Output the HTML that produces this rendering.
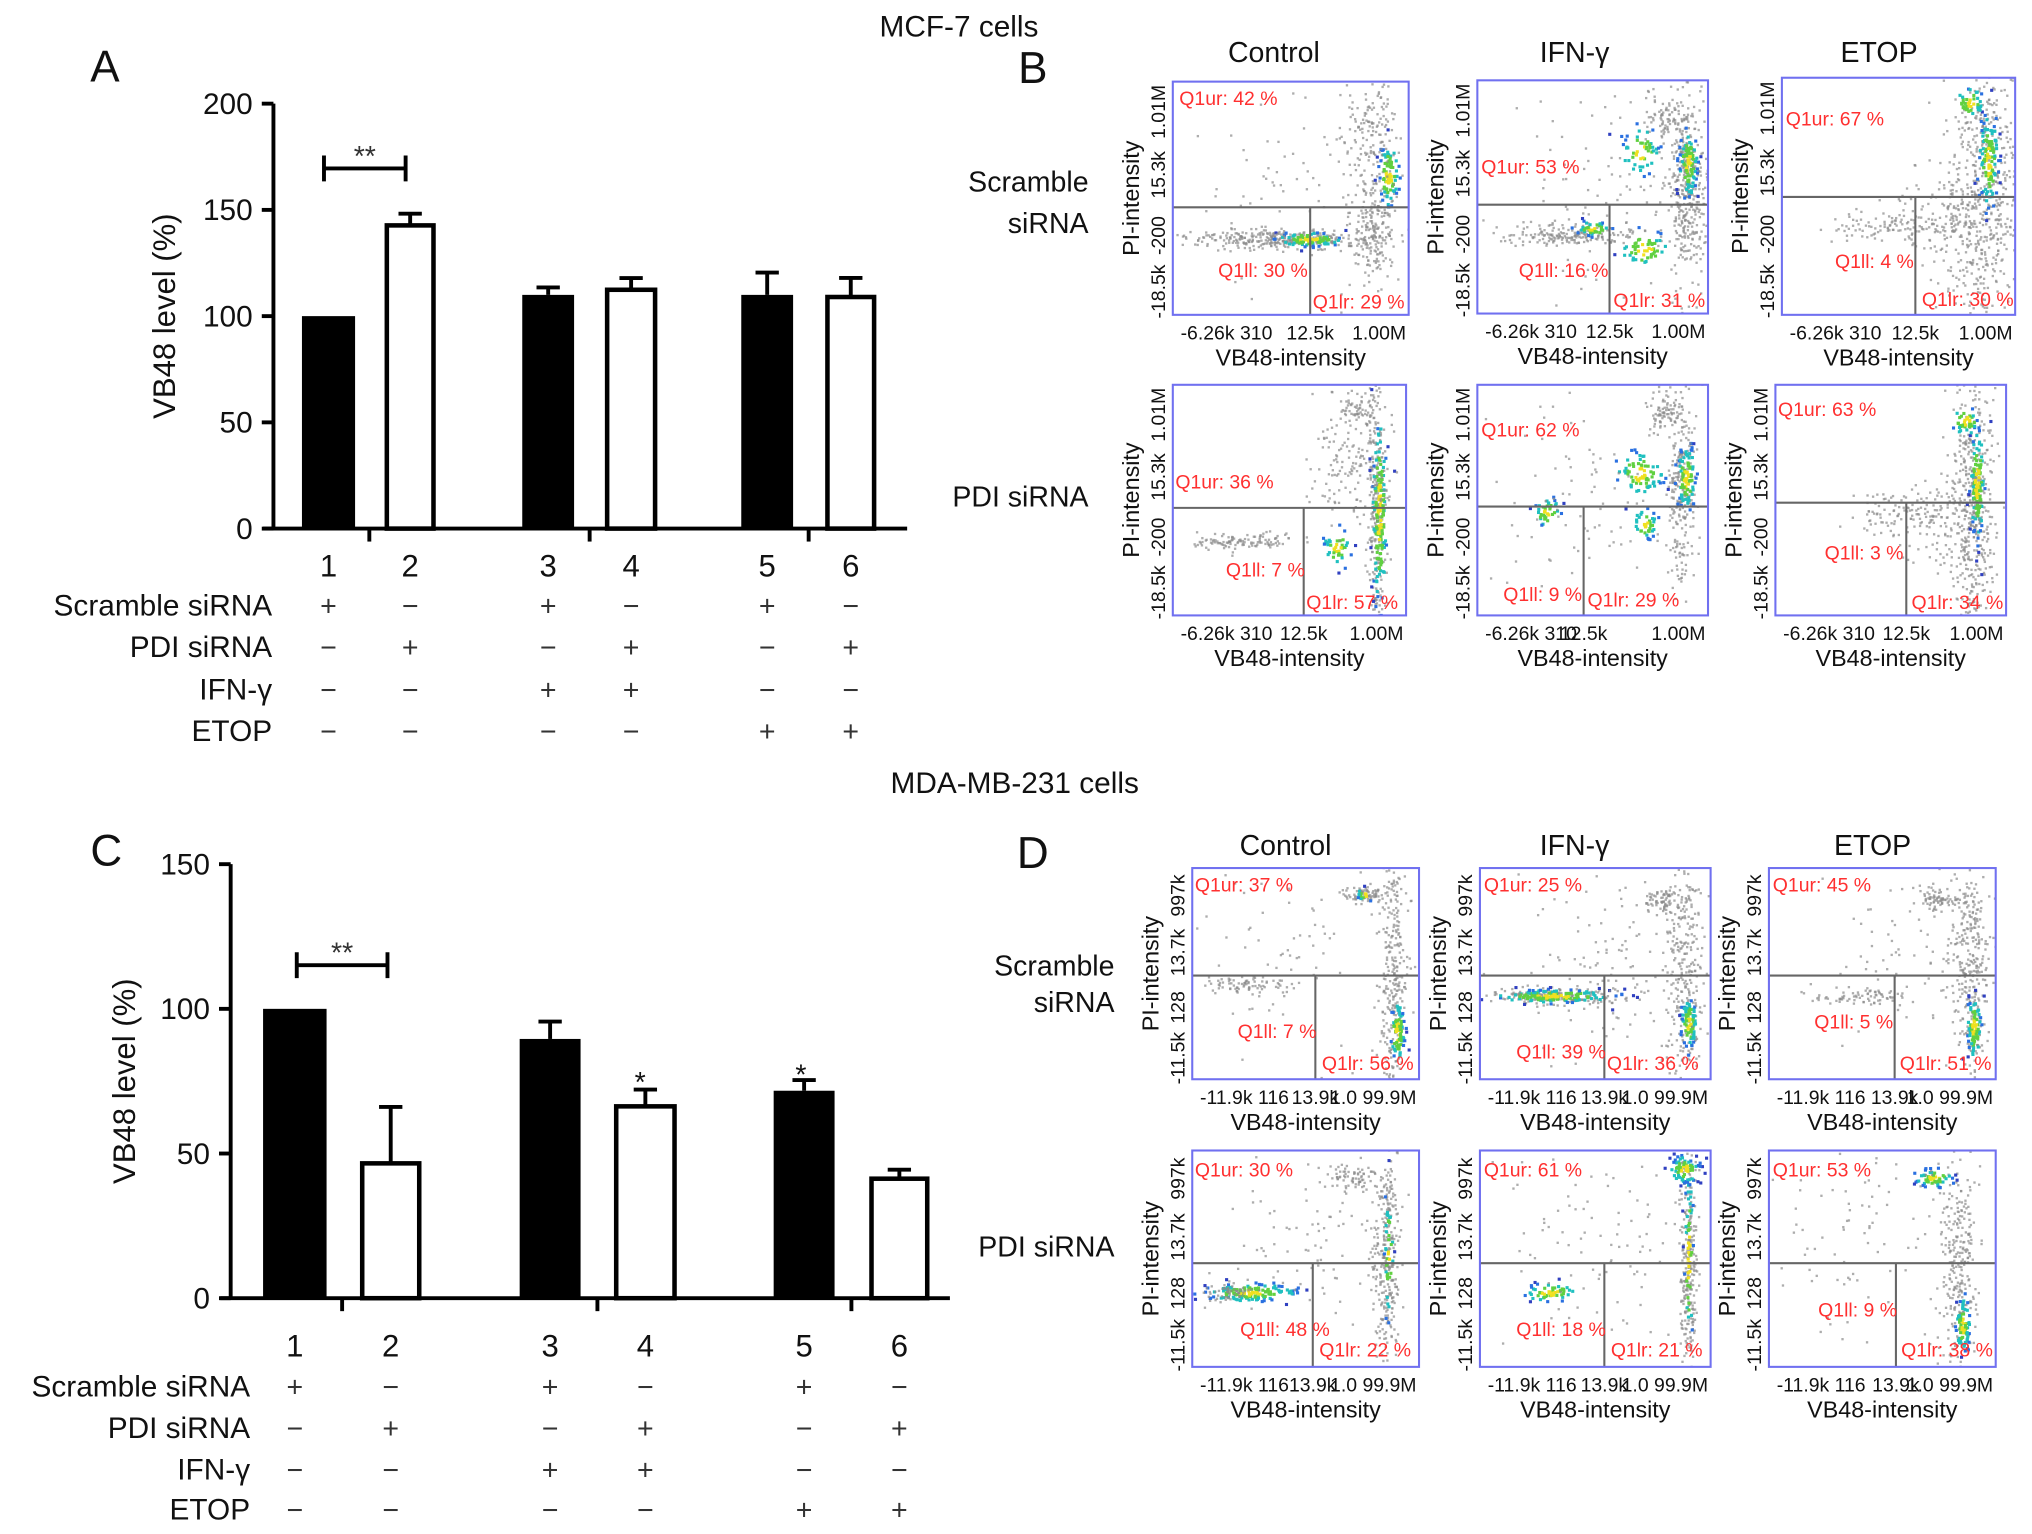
<!DOCTYPE html>
<html><head><meta charset="utf-8">
<style>
html,body{margin:0;padding:0;background:#fff;}
svg{display:block;}
text{font-family:"Liberation Sans",Arial,sans-serif;}
</style></head>
<body>
<svg id="fig" width="2032" height="1534" viewBox="0 0 1568 1184" preserveAspectRatio="none" xmlns="http://www.w3.org/2000/svg">
<rect width="1568" height="1184" fill="#fff"/>
<g id="root"></g>
</svg>
<script>
// ---------- Bar chart data ----------
const barLabels = ["1","2","3","4","5","6"];
const mcfValues = [100, 142.7, 110, 112.4, 110, 109];
const mcfErrors = [0, 5.5, 3.5, 5.5, 10.5, 9];
const mdaValues = [100, 46.6, 89.6, 66.3, 71.7, 41.3];
const mdaErrors = [0, 19.5, 6, 5.8, 3.7, 3.1];
const mcfTicks = [0, 50, 100, 150, 200];
const mdaTicks = [0, 50, 100, 150];
const barFill = ["black","white","black","white","black","white"];
const condNames = ["Scramble siRNA","PDI siRNA","IFN-γ","ETOP"];
const condScramble = ["+","−","+","−","+","−"];
const condPDI = ["−","+","−","+","−","+"];
const condIFN = ["−","−","+","+","−","−"];
const condETOP = ["−","−","−","−","+","+"];

// ---------- Flow plot cluster data (fractions of box: cx, cy, sx, sy, count, hot) ----------
const clustersB1 = [[.45,.67,.2,.02,160,0],[.57,.67,.07,.015,70,1],[.85,.6,.05,.12,120,0],[.91,.4,.02,.07,70,1],[.82,.2,.06,.1,70,0],[.5,.45,.25,.25,40,0]];
const clustersB2 = [[.4,.66,.15,.02,100,0],[.5,.63,.04,.015,30,1],[.9,.45,.04,.2,200,0],[.91,.35,.02,.07,70,1],[.7,.3,.04,.05,40,1],[.72,.72,.05,.04,40,1],[.82,.15,.05,.05,40,0],[.6,.5,.25,.25,50,0]];
const clustersB3 = [[.85,.5,.08,.3,300,0],[.88,.35,.02,.1,90,1],[.8,.1,.03,.03,30,1],[.45,.62,.12,.03,50,0],[.7,.6,.1,.1,60,0]];
const clustersB4 = [[.3,.67,.12,.02,60,0],[.87,.6,.02,.25,150,0],[.88,.55,.015,.2,120,1],[.7,.7,.03,.04,30,1],[.75,.3,.08,.15,80,0],[.8,.1,.04,.03,30,0]];
const clustersB5 = [[.3,.55,.03,.03,30,1],[.88,.45,.03,.2,120,0],[.9,.4,.02,.07,70,1],[.7,.38,.05,.05,60,1],[.72,.6,.03,.03,30,1],[.8,.1,.04,.04,40,0],[.5,.5,.25,.25,50,0]];
const clustersB6 = [[.85,.55,.05,.3,250,0],[.87,.42,.015,.12,90,1],[.82,.15,.03,.03,30,1],[.5,.55,.1,.04,40,0],[.7,.6,.1,.1,50,0]];
const clustersD1 = [[.25,.55,.1,.02,40,0],[.88,.5,.03,.3,150,0],[.9,.77,.015,.07,60,1],[.75,.12,.05,.02,40,0],[.76,.12,.02,.015,10,1],[.5,.4,.25,.25,40,0]];
const clustersD2 = [[.3,.6,.14,.02,110,0],[.32,.6,.13,.015,110,1],[.88,.5,.04,.3,150,0],[.9,.73,.015,.06,60,1],[.8,.15,.05,.03,40,0],[.6,.45,.2,.25,60,0]];
const clustersD3 = [[.4,.6,.12,.02,40,0],[.88,.45,.04,.3,160,0],[.9,.75,.015,.07,60,1],[.75,.15,.05,.03,40,0],[.6,.4,.2,.2,40,0]];
const clustersD4 = [[.25,.65,.1,.02,100,1],[.15,.65,.05,.02,30,0],[.85,.5,.03,.3,150,0],[.86,.5,.01,.15,30,1],[.7,.12,.06,.03,40,0],[.55,.45,.2,.2,50,0]];
const clustersD5 = [[.3,.65,.06,.02,40,1],[.9,.5,.02,.3,140,0],[.9,.5,.01,.2,40,1],[.88,.08,.03,.03,60,1],[.5,.4,.25,.25,50,0]];
const clustersD6 = [[.83,.5,.04,.3,150,0],[.85,.8,.015,.06,60,1],[.72,.12,.04,.02,40,1],[.45,.4,.25,.25,50,0]];

const NS = "http://www.w3.org/2000/svg";
const root = document.getElementById('root');
function mk(tag, attrs, parent, txt){
  const e = document.createElementNS(NS, tag);
  for (const k in attrs) e.setAttribute(k, attrs[k]);
  if (txt !== undefined) e.textContent = txt;
  (parent||root).appendChild(e);
  return e;
}
function txt(x,y,s,size,parent,anchor,name,extra){
  const t = mk('text',Object.assign({x:x,y:y,'font-size':size,'text-anchor':anchor||'middle',fill:'#111'},extra||{}),parent,s);
  
  
  return t;
}

// ---------- Bar chart ----------
function barChart(cfg){
  const g = mk('g',{});
  
  
  const yScale = v => cfg.y0 - (v/cfg.ymax)*(cfg.y0-cfg.y1);
  const ax = mk('line',{x1:cfg.axX,y1:cfg.y1,x2:cfg.axX,y2:cfg.y0,stroke:'#000','stroke-width':3},g);
   
  const bx = mk('line',{x1:cfg.axX-8,y1:cfg.y0,x2:cfg.xEnd,y2:cfg.y0,stroke:'#000','stroke-width':3},g);
   
  cfg.ticks.forEach(t=>{
    const y=yScale(t);
    const l=mk('line',{x1:cfg.axX-9,y1:y,x2:cfg.axX,y2:y,stroke:'#000','stroke-width':3},g);
     
    txt(cfg.axX-16,y+8,String(t),23,g,'end','y-tick-label');
  });
  cfg.xTicks.forEach(x=>{
    const l=mk('line',{x1:x,y1:cfg.y0,x2:x,y2:cfg.y0+10,stroke:'#000','stroke-width':3},g);
     
  });
  txt(0,0,'VB48 level (%)',24,g,'middle','y-axis-title',{transform:`translate(${cfg.ylX},${(cfg.y0+cfg.y1)/2}) rotate(-90)`});
  cfg.values.forEach((v,i)=>{
    const [l,r]=cfg.bars[i];
    const top=yScale(v);
    const cx=(l+r)/2;
    if (cfg.errors[i]>0){
      const et=yScale(v+cfg.errors[i]);
      const e1=mk('line',{x1:cx,y1:et,x2:cx,y2:top,stroke:'#000','stroke-width':3},g);
       
      const e2=mk('line',{x1:cx-9,y1:et,x2:cx+9,y2:et,stroke:'#000','stroke-width':3},g);
       
    }
    const fill=barFill[i];
    const rr=mk('rect',{x:l+(fill==='white'?1.5:0),y:top,width:(r-l)-(fill==='white'?3:0),height:cfg.y0-top,fill:fill,stroke:'#000','stroke-width':fill==='white'?3.5:0},g);
     
    txt(cx,cfg.numY,barLabels[i],24,g,'middle','x-tick-label');
    const rows=[condScramble,condPDI,condIFN,condETOP];
    rows.forEach((row,j)=>txt(cx,cfg.rowY[j]+8,row[i],22,g,'middle','condition-mark',{fill:'#333'}));
  });
  condNames.forEach((n,j)=>txt(cfg.labelR,cfg.rowY[j]+8,n,23,g,'end','condition-label'));
  const b=cfg.bracket;
  const bp=mk('path',{d:`M${b[0]},${b[2]+10}V${b[2]-10}M${b[0]},${b[2]}H${b[1]}M${b[1]},${b[2]+10}V${b[2]-10}`,stroke:'#000','stroke-width':3,fill:'none'},g);
   
  txt((b[0]+b[1])/2,b[2]-2,'**',22,g,'middle','significance-stars',{fill:'#333'});
  (cfg.stars||[]).forEach(s=>txt(s[0],s[1],'*',22,g,'middle','significance-star'));
}
barChart({name:'panel-a-bar-chart',axX:211,y0:408,y1:80,ymax:200,xEnd:700,ticks:mcfTicks,values:mcfValues,errors:mcfErrors,
  bars:[[233,274],[297,336],[403,443],[467,507],[572,612],[637,676]],xTicks:[285,455,624],ylX:135,numY:445,
  rowY:[467,499,532,564],labelR:210,bracket:[250,313,130]});
barChart({name:'panel-c-bar-chart',axX:178,y0:1002,y1:667,ymax:150,xEnd:733,ticks:mdaTicks,values:mdaValues,errors:mdaErrors,
  bars:[[203,252],[278,325],[401,448],[474,522],[597,644],[671,717]],xTicks:[264,461,657],ylX:104,numY:1047,
  rowY:[1070,1102,1134,1165],labelR:193,bracket:[229,299,745],stars:[[494,843],[618,837]]});

txt(81,63,'A',34,root,'middle','panel-a-letter');
txt(82,668,'C',34,root,'middle','panel-c-letter');
txt(797,64,'B',34,root,'middle','panel-b-letter');
txt(797,670,'D',34,root,'middle','panel-d-letter');
txt(740,28,'MCF-7 cells',23,root,'middle','mcf7-title');
txt(783,612,'MDA-MB-231 cells',23,root,'middle','mda-title');
[['Control',983,48],['IFN-γ',1215,48],['ETOP',1450,48],['Control',992,660],['IFN-γ',1215,660],['ETOP',1445,660]].forEach(c=>txt(c[1],c[2],c[0],22,root,'middle','column-title'));
txt(840,148,'Scramble',22,root,'end','row-label');
txt(840,180,'siRNA',22,root,'end','row-label');
txt(840,391,'PDI siRNA',22,root,'end','row-label');
txt(860,753,'Scramble',22,root,'end','row-label');
txt(860,781,'siRNA',22,root,'end','row-label');
txt(860,970,'PDI siRNA',22,root,'end','row-label');

// ---------- Flow plots ----------
let seed = 12345;
function rnd(){ seed = (seed*1103515245+12345) & 0x7fffffff; return seed/0x7fffffff; }
function gauss(){ let u=rnd()||1e-6, v=rnd(); return Math.sqrt(-2*Math.log(u))*Math.cos(2*Math.PI*v); }
const hotCols=['#f0e020','#60d040','#20c0c0','#2a70e0','#3040c0'];
function flowPlot(p){
  const g=mk('g',{});
   
  const {x,y,w,h}=p;
  const cp=mk('clipPath',{id:'c'+p.id},g); mk('rect',{x:x,y:y,width:w,height:h},cp);
  const dg=mk('g',{'clip-path':`url(#c${p.id})`},g);
  p.clusters.forEach(c=>{
    const n=Math.round(c[4]*(c[5]?1.3:1.9));
    for(let i=0;i<n;i++){
      const gx=gauss(), gy=gauss();
      const px=x+(c[0]+gx*c[2])*w, py=y+(c[1]+gy*c[3])*h;
      let col='#8a8a8a';
      if(c[5]){ const d=Math.sqrt(gx*gx+gy*gy); col=hotCols[Math.min(4,Math.floor(d*1.6))]; }
      mk('rect',{x:px,y:py,width:c[5]?2.4:1.8,height:c[5]?2.4:1.8,fill:col,opacity:c[5]?1:0.7},dg);
    }
  });
  const q1=mk('line',{x1:x,y1:p.hl,x2:x+w,y2:p.hl,stroke:'#666','stroke-width':1.6},g);
   
  const q2=mk('line',{x1:p.vl,y1:p.hl,x2:p.vl,y2:y+h,stroke:'#666','stroke-width':1.6},g);
   
  const bd=mk('rect',{x:x,y:y,width:w,height:h,fill:'none',stroke:'#7070f0','stroke-width':1.6},g);
   
  txt(p.ur[0],p.ur[1],p.labels[0],15,g,'start','q1ur-label',{fill:'#ff3030'});
  txt(p.ll[0],p.ll[1],p.labels[1],15,g,'start','q1ll-label',{fill:'#ff3030'});
  txt(p.lr[0],p.lr[1],p.labels[2],15,g,'start','q1lr-label',{fill:'#ff3030'});
  const yt=p.yt, xt=p.xt;
  [[yt[0],.9],[yt[1],.66],[yt[2],.4],[yt[3],.13]].forEach(t=>txt(0,0,t[0],15,g,'middle','y-tick-label',{transform:`translate(${x-6},${y+t[1]*h}) rotate(-90)`}));
  txt(x+6,y+h+19,xt[0],15,g,'start','x-tick-label');
  txt(p.vl,y+h+19,xt[1],15,g,'middle','x-tick-label');
  txt(x+w-2,y+h+19,xt[2],15,g,'end','x-tick-label');
  txt(x+w/2,y+h+39,'VB48-intensity',18,g,'middle','x-axis-title');
  txt(0,0,'PI-intensity',18,g,'middle','y-axis-title',{transform:`translate(${x-26},${y+h/2}) rotate(-90)`});
}
const ytB=['-18.5k','-200','15.3k','1.01M'], xtB=['-6.26k 310','12.5k','1.00M'];
const ytD=['-11.5k','128','13.7k','997k'], xtD=['-11.9k 116','13.9k','1.0 99.9M'];
const plots=[
 {x:905,y:63,w:182,h:180,hl:160,vl:1011,ur:[910,81],ll:[940,214],lr:[1013,238],labels:['Q1ur: 42 %','Q1ll: 30 %','Q1lr: 29 %'],clusters:clustersB1,yt:ytB,xt:xtB},
 {x:1140,y:62,w:178,h:180,hl:158,vl:1242,ur:[1143,134],ll:[1172,214],lr:[1245,237],labels:['Q1ur: 53 %','Q1ll: 16 %','Q1lr: 31 %'],clusters:clustersB2,yt:ytB,xt:xtB},
 {x:1375,y:60,w:180,h:183,hl:152,vl:1478,ur:[1378,97],ll:[1416,207],lr:[1483,236],labels:['Q1ur: 67 %','Q1ll: 4 %','Q1lr: 30 %'],clusters:clustersB3,yt:ytB,xt:xtB},
 {x:905,y:297,w:180,h:178,hl:392,vl:1006,ur:[907,377],ll:[946,445],lr:[1008,470],labels:['Q1ur: 36 %','Q1ll: 7 %','Q1lr: 57 %'],clusters:clustersB4,yt:ytB,xt:xtB},
 {x:1140,y:297,w:178,h:178,hl:391,vl:1222,ur:[1143,337],ll:[1160,464],lr:[1225,468],labels:['Q1ur: 62 %','Q1ll: 9 %','Q1lr: 29 %'],clusters:clustersB5,yt:ytB,xt:xtB},
 {x:1370,y:297,w:178,h:178,hl:388,vl:1471,ur:[1372,321],ll:[1408,432],lr:[1475,470],labels:['Q1ur: 63 %','Q1ll: 3 %','Q1lr: 34 %'],clusters:clustersB6,yt:ytB,xt:xtB},
 {x:920,y:670,w:175,h:163,hl:753,vl:1015,ur:[922,688],ll:[955,801],lr:[1020,826],labels:['Q1ur: 37 %','Q1ll: 7 %','Q1lr: 56 %'],clusters:clustersD1,yt:ytD,xt:xtD},
 {x:1142,y:670,w:178,h:163,hl:753,vl:1238,ur:[1145,688],ll:[1170,817],lr:[1240,826],labels:['Q1ur: 25 %','Q1ll: 39 %','Q1lr: 36 %'],clusters:clustersD2,yt:ytD,xt:xtD},
 {x:1365,y:670,w:175,h:163,hl:753,vl:1462,ur:[1368,688],ll:[1400,794],lr:[1466,826],labels:['Q1ur: 45 %','Q1ll: 5 %','Q1lr: 51 %'],clusters:clustersD3,yt:ytD,xt:xtD},
 {x:920,y:888,w:175,h:167,hl:975,vl:1013,ur:[922,908],ll:[957,1031],lr:[1018,1047],labels:['Q1ur: 30 %','Q1ll: 48 %','Q1lr: 22 %'],clusters:clustersD4,yt:ytD,xt:xtD},
 {x:1142,y:888,w:178,h:167,hl:975,vl:1238,ur:[1145,908],ll:[1170,1031],lr:[1243,1047],labels:['Q1ur: 61 %','Q1ll: 18 %','Q1lr: 21 %'],clusters:clustersD5,yt:ytD,xt:xtD},
 {x:1365,y:888,w:175,h:167,hl:975,vl:1463,ur:[1368,908],ll:[1403,1016],lr:[1467,1047],labels:['Q1ur: 53 %','Q1ll: 9 %','Q1lr: 38 %'],clusters:clustersD6,yt:ytD,xt:xtD}
];
plots.forEach((p,i)=>{p.id=i;flowPlot(p);});
</script>
</body></html>
